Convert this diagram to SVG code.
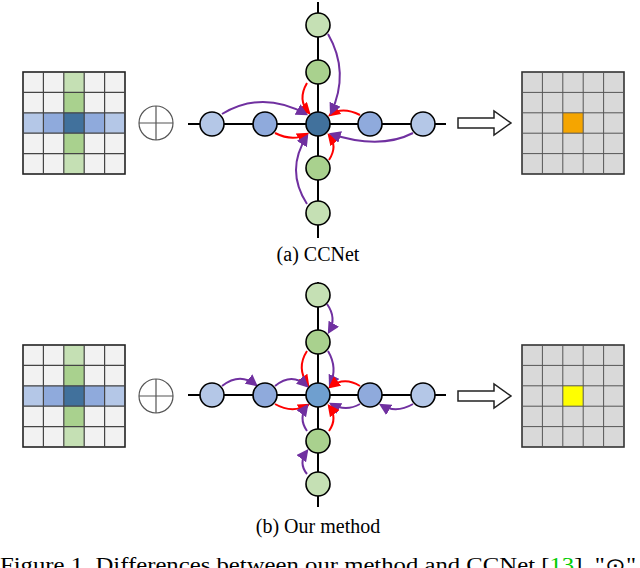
<svg xmlns="http://www.w3.org/2000/svg" width="640" height="568" viewBox="0 0 640 568">
<style>
.g{stroke:#333;stroke-width:1.2}
.ln{stroke:#000;stroke-width:2;fill:none}
.nd{stroke:#000;stroke-width:1.6}
.r{stroke:#f00;stroke-width:2;fill:none;marker-end:url(#ar)}
.p{stroke:#7030a0;stroke-width:2;fill:none;marker-end:url(#ap)}
.t{font-family:"Liberation Serif",serif;font-size:20px;text-anchor:middle}
</style>
<defs>
<marker id="ar" viewBox="0 0 10 10" refX="8" refY="5" markerWidth="6" markerHeight="6" orient="auto" markerUnits="strokeWidth"><path d="M0,0L10,5L0,10z" fill="#f00"/></marker>
<marker id="ap" viewBox="0 0 10 10" refX="8" refY="5" markerWidth="6" markerHeight="6" orient="auto" markerUnits="strokeWidth"><path d="M0,0L10,5L0,10z" fill="#7030a0"/></marker>
<g id="inGrid">
<rect x="23" y="0" width="102" height="102" fill="#f2f2f2"/>
<rect x="63.8" y="0" width="20.4" height="102" fill="#a9d18e"/>
<rect x="63.8" y="0" width="20.4" height="20.4" fill="#c5e0b4"/>
<rect x="63.8" y="81.6" width="20.4" height="20.4" fill="#c5e0b4"/>
<rect x="23" y="40.8" width="102" height="20.4" fill="#8faadc"/>
<rect x="23" y="40.8" width="20.4" height="20.4" fill="#b4c7e7"/>
<rect x="104.6" y="40.8" width="20.4" height="20.4" fill="#b4c7e7"/>
<rect x="63.8" y="40.8" width="20.4" height="20.4" fill="#41719c"/>
<g stroke="#444" stroke-width="1.2" fill="none">
<rect x="23" y="0" width="102" height="102" stroke="#222" stroke-width="1.6"/>
<path d="M43.4,0V102M63.8,0V102M84.2,0V102M104.6,0V102M23,20.4H125M23,40.8H125M23,61.2H125M23,81.6H125"/>
</g>
</g>
<g id="oplus" fill="#fff" stroke="#555" stroke-width="1.2"><circle r="17"/><path d="M-17,0H17M0,-17V17"/></g>
<path id="harrow" d="M458,-5H494V-12L511,0L494,12V5H458Z" fill="#fff" stroke="#222" stroke-width="1.5"/>
</defs>

<g id="gridA"><use href="#inGrid" y="72"/></g>
<g id="oplusA"><use href="#oplus" x="156" y="123"/></g>
<g id="arrowA"><use href="#harrow" y="123"/></g>
<g id="outA">
<rect x="522" y="72" width="102" height="102" fill="#d9d9d9" stroke="#333" stroke-width="1.6"/>
<rect x="562.8" y="112.8" width="20.4" height="20.4" fill="#f5a500"/>
<path d="M542.4,72V174M562.8,72V174M583.2,72V174M603.6,72V174M522,92.4H624M522,112.8H624M522,133.2H624M522,153.6H624" stroke="#555" stroke-width="1" fill="none"/>
</g>

<g id="connectorsA">
<path class="ln" d="M188,124H446M318,2V238"/>
<path class="r" d="M307,83Q297,100 309,113"/>
<path class="r" d="M360,115Q342,106 330,115"/>
<path class="r" d="M275,133Q293,142 307,134"/>
<path class="r" d="M329,160Q338,146 329,135"/>
<path class="p" d="M328,34Q350,72 331,113"/>
<path class="p" d="M222,114Q262,90 306,114"/>
<path class="p" d="M413,133Q380,150 331,134"/>
<path class="p" d="M307,204Q285,170 307,136"/>
</g>
<g id="nodesA" class="nd">
<circle cx="212" cy="124" r="12" fill="#b4c7e7"/>
<circle cx="265" cy="124" r="12" fill="#8faadc"/>
<circle cx="370" cy="124" r="12" fill="#8faadc"/>
<circle cx="423" cy="124" r="12" fill="#b4c7e7"/>
<circle cx="318" cy="25" r="12" fill="#c5e0b4"/>
<circle cx="318" cy="72" r="12" fill="#a9d18e"/>
<circle cx="318" cy="168" r="12" fill="#a9d18e"/>
<circle cx="318" cy="213" r="12" fill="#c5e0b4"/>
<circle cx="318" cy="124" r="12" fill="#41719c"/>
</g>
<text class="t" x="318" y="261">(a) CCNet</text>

<g id="gridB"><use href="#inGrid" y="345"/></g>
<g id="oplusB"><use href="#oplus" x="156" y="396"/></g>
<g id="arrowB"><use href="#harrow" y="396"/></g>
<g id="outB">
<rect x="522" y="345" width="102" height="102" fill="#d9d9d9" stroke="#333" stroke-width="1.6"/>
<rect x="562.8" y="385.8" width="20.4" height="20.4" fill="#ffff00"/>
<path d="M542.4,345V447M562.8,345V447M583.2,345V447M603.6,345V447M522,365.4H624M522,385.8H624M522,406.2H624M522,426.6H624" stroke="#555" stroke-width="1" fill="none"/>
</g>

<g id="connectorsB">
<path class="ln" d="M188,395H446M318,282V507"/>
<path class="p" d="M327,304Q337,318 329,332"/>
<path class="p" d="M328,351Q338,368 330,385"/>
<path class="r" d="M307,351Q296,368 308,385"/>
<path class="p" d="M222,386Q240,372 256,385"/>
<path class="p" d="M275,386Q292,372 307,386"/>
<path class="r" d="M275,404Q292,414 308,405"/>
<path class="r" d="M360,386Q344,376 330,387"/>
<path class="p" d="M360,404Q346,412 331,404"/>
<path class="p" d="M413,404Q396,414 381,405"/>
<path class="r" d="M329,431Q338,418 329,406"/>
<path class="p" d="M307,431Q298,418 307,406"/>
<path class="p" d="M307,474Q298,463 307,451"/>
</g>
<g id="nodesB" class="nd">
<circle cx="212" cy="395" r="12" fill="#b4c7e7"/>
<circle cx="265" cy="395" r="12" fill="#8faadc"/>
<circle cx="370" cy="395" r="12" fill="#8faadc"/>
<circle cx="423" cy="395" r="12" fill="#b4c7e7"/>
<circle cx="318" cy="295" r="12" fill="#c5e0b4"/>
<circle cx="318" cy="342" r="12" fill="#a9d18e"/>
<circle cx="318" cy="441" r="12" fill="#a9d18e"/>
<circle cx="318" cy="484" r="12" fill="#c5e0b4"/>
<circle cx="318" cy="395" r="12" fill="#6f9fcf"/>
</g>
<text class="t" x="318" y="533">(b) Our method</text>
<text class="t" x="318" y="572" font-size="23" textLength="636" lengthAdjust="spacingAndGlyphs">Figure 1. Differences between our method and CCNet [<tspan fill="#00cc00">13</tspan>]. "⊙"</text>
</svg>
